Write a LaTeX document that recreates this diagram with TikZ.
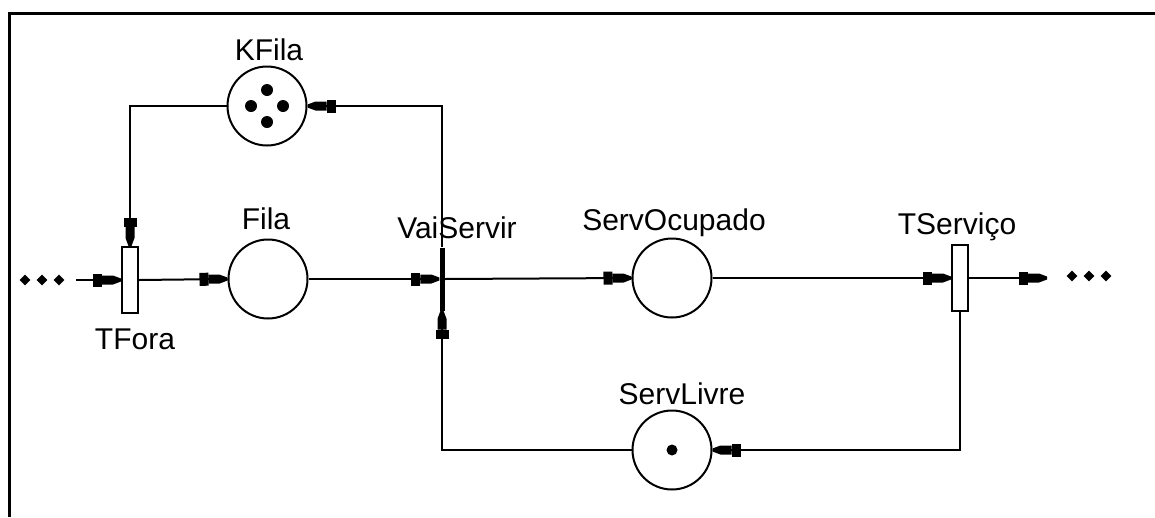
\documentclass[tikz,border=0pt]{standalone}
\usepackage{fontspec}
\setmainfont{Liberation Sans}
\usetikzlibrary{decorations.markings,shapes.geometric}
\begin{document}
\begin{tikzpicture}[x=1pt,y=-1pt,
  place/.style={circle,draw,line width=2pt,minimum size=79pt,inner sep=0pt},
  trans/.style={rectangle,draw,line width=2pt,minimum width=16pt,minimum height=66pt,inner sep=0pt},
  bar/.style={rectangle,fill=black,minimum width=5pt,minimum height=63pt,inner sep=0pt},
  lbl/.style={font=\fontsize{30}{32}\selectfont,anchor=base,inner sep=0pt},
  tok/.style={circle,fill=black,minimum size=12pt,inner sep=0pt},
  dot/.style={diamond,fill=black,minimum size=11pt,inner sep=0pt},
  pa/.style={line width=2pt,postaction={decorate},
    decoration={markings,mark=at position 1 with {
      \fill (-28pt,-6.5pt) rectangle (-19pt,6.5pt);
      \fill (-19pt,-4.5pt) -- (-8pt,-4.5pt) -- (0pt,-1.5pt) -- (0pt,1.5pt) -- (-8pt,4.5pt) -- (-19pt,4.5pt) -- cycle;}}},
  ln/.style={line width=2pt}]
\useasboundingbox (0,0) rectangle (1155,517);
\draw[line width=3pt] (1155,13) -- (9,13) -- (9,517);
% places
\node[place] (KF) at (267,106) {};
\node[place] (FI) at (268,279) {};
\node[place] (SO) at (672,278) {};
\node[place] (SL) at (672,450) {};
% tokens
\node[tok] (k1) at (267,90) {};
\node[tok] (k2) at (251,106) {};
\node[tok] (k3) at (283,106) {};
\node[tok] (k4) at (267,122) {};
\node[tok,minimum size=11pt] (s1) at (672,450) {};
% transitions
\node[trans] (TF) at (130,280) {};
\node[bar] (VS) at (442,279) {};
\node[trans] (TS) at (960,278) {};
% labels
\node[lbl] (lKF) at (269,60) {KFila};
\node[lbl] (lFI) at (266,229) {Fila};
\node[lbl] (lVS) at (457,238) {VaiServir};
\node[lbl] (lSO) at (674,230) {ServOcupado};
\node[lbl] (lTS) at (957,234) {TServiço};
\node[lbl] (lTF) at (135,349) {TFora};
\node[lbl] (lSL) at (682,404) {ServLivre};
% ellipsis dots
\node[dot] (d1) at (25,280) {};
\node[dot] (d2) at (42,280) {};
\node[dot] (d3) at (59,280) {};
\node[dot] (d4) at (1072,276) {};
\node[dot] (d5) at (1089,276) {};
\node[dot] (d6) at (1106,276) {};
\coordinate (in) at (76,280);
\coordinate (out) at (1047,278);
% arcs
\draw[pa] (in) -- (TF.west);
\draw[pa] (TF.east) -- (FI.west);
\draw[pa] (FI.east) -- (VS.west);
\draw[pa] (VS.east) -- (SO.west);
\draw[pa] (SO.east) -- (TS.west);
\draw[pa] (TS.east) -- (out);
\draw[pa] (TS.south) |- (SL.east);
\draw[pa] (SL.west) -| (VS.south);
\draw[pa] (VS.north) |- (KF.east);
\draw[pa] (KF.west) -| (TF.north);
\end{tikzpicture}
\end{document}
